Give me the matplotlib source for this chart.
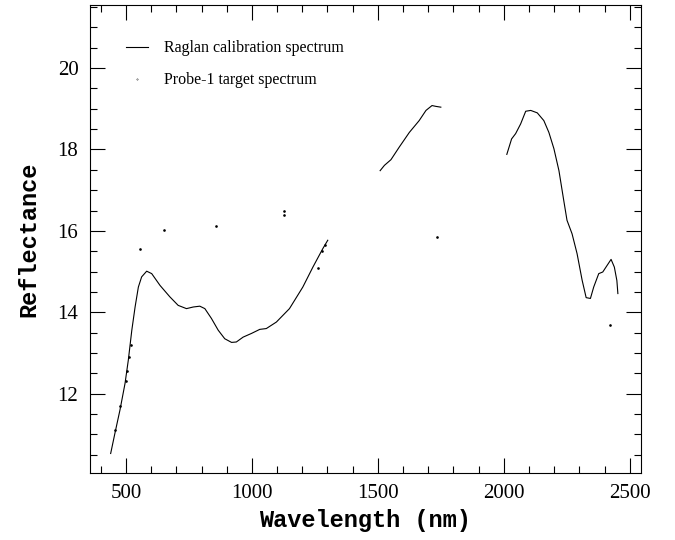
import numpy as np
import matplotlib.pyplot as plt
from matplotlib.ticker import MultipleLocator

# Raglan calibration spectrum, three pieces (gaps at water bands)
wl_1 = [439, 456, 476, 496, 509, 523, 536, 549, 562, 582, 602, 635, 674, 707, 740,
        767, 793, 813, 839, 866, 892, 919, 938, 965, 998, 1031, 1057, 1097, 1149,
        1202, 1242, 1281, 1301]
refl_1 = [10.53, 11.03, 11.60, 12.25, 12.82, 13.56, 14.13, 14.62, 14.87, 15.01, 14.95,
          14.66, 14.38, 14.17, 14.09, 14.13, 14.15, 14.09, 13.85, 13.56, 13.35, 13.26,
          13.27, 13.39, 13.48, 13.58, 13.60, 13.76, 14.09, 14.62, 15.11, 15.56, 15.77]

wl_2 = [1509, 1526, 1552, 1585, 1625, 1664, 1691, 1715, 1730, 1750]
refl_2 = [17.48, 17.61, 17.75, 18.06, 18.42, 18.71, 18.96, 19.08, 19.06, 19.04]

wl_3 = [2012, 2021, 2031, 2047, 2067, 2087, 2107, 2133, 2159, 2179, 2199, 2219, 2238,
        2251, 2271, 2291, 2311, 2327, 2344, 2357, 2377, 2393, 2410, 2426, 2439, 2449,
        2453]
refl_3 = [17.88, 18.06, 18.26, 18.39, 18.63, 18.94, 18.96, 18.90, 18.71, 18.42, 18.02,
          17.48, 16.75, 16.26, 15.93, 15.44, 14.79, 14.36, 14.34, 14.62, 14.95, 14.99,
          15.15, 15.30, 15.11, 14.78, 14.46]

# Probe-1 target spectrum (sparse points)
wl_probe = [458, 478, 498, 505, 512, 518, 555, 650, 859, 1127, 1127, 1262, 1280, 1290,
            1734, 2423]
refl_probe = [11.1, 11.7, 12.3, 12.55, 12.9, 13.2, 15.56, 16.01, 16.12, 16.38, 16.5,
              15.09, 15.5, 15.65, 15.85, 13.68]

plt.rcParams['font.family'] = 'Liberation Serif'
fig = plt.figure(figsize=(6.75, 5.4), dpi=100)
ax = fig.add_axes([0.1326, 0.124, 0.8171, 0.8667])

ax.plot(wl_1, refl_1, 'k', linewidth=0.8, label='Raglan calibration spectrum')
ax.plot(wl_2, refl_2, 'k', linewidth=0.8)
ax.plot(wl_3, refl_3, 'k', linewidth=0.8)
ax.plot(wl_probe, refl_probe, 'k.', markersize=1.8, label='Probe-1 target spectrum')

ax.set_xlim(355, 2545)
ax.set_ylim(10.05, 21.55)
ax.xaxis.set_major_locator(MultipleLocator(500))
ax.xaxis.set_minor_locator(MultipleLocator(100))
ax.yaxis.set_major_locator(MultipleLocator(2))
ax.yaxis.set_minor_locator(MultipleLocator(0.5))
ax.tick_params(which='both', direction='in', top=True, right=True, width=0.8,
               labelsize=15, pad=8)
ax.tick_params(which='major', length=10.5)
ax.tick_params(which='minor', length=5)
for s in ax.spines.values():
    s.set_linewidth(0.8)

ax.set_xlabel('Wavelength (nm)', fontfamily='Liberation Mono', fontweight='bold',
              fontsize=17, labelpad=4)
ax.set_ylabel('Reflectance', fontfamily='Liberation Mono', fontweight='bold',
              fontsize=17, labelpad=12)

ax.legend(loc='upper left', bbox_to_anchor=(0.04, 0.955), frameon=False,
          fontsize=11.5, handlelength=1.4, handletextpad=1.0, labelspacing=1.0,
          markerscale=0.3)

fig.savefig('out.png', dpi=100)
